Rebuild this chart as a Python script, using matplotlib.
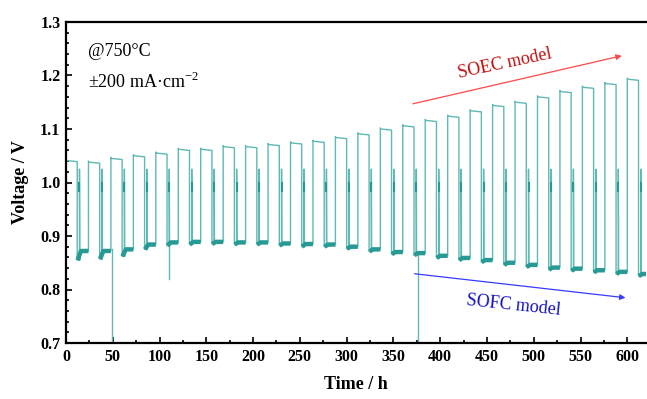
import matplotlib
matplotlib.use("Agg")
import matplotlib.pyplot as plt
from matplotlib.ticker import MultipleLocator

# ---- data ----
period_h = 24.0
soec_hours = 12.0
cycle_start = [24 * k for k in range(26)]
soec_level = [1.041, 1.038, 1.045, 1.050, 1.055, 1.062, 1.062, 1.067, 1.067, 1.071,
              1.074, 1.077, 1.084, 1.091, 1.100, 1.106, 1.116, 1.124, 1.134, 1.144,
              1.150, 1.160, 1.170, 1.178, 1.185, 1.193]
sofc_start = [0.855, 0.857, 0.862, 0.875, 0.882, 0.884, 0.885, 0.884, 0.884, 0.882,
              0.880, 0.880, 0.876, 0.871, 0.866, 0.864, 0.859, 0.855, 0.851, 0.846,
              0.842, 0.837, 0.835, 0.832, 0.829, 0.825]
sofc_level = [0.872, 0.872, 0.875, 0.884, 0.888, 0.889, 0.889, 0.888, 0.888, 0.886,
              0.885, 0.884, 0.880, 0.875, 0.870, 0.868, 0.863, 0.859, 0.855, 0.850,
              0.846, 0.841, 0.839, 0.836, 0.833, 0.829]
ocv_top = 1.025
ocv_blob = [0.985, 1.0]
ocv_bottom = 0.91
t_end = 620.0
# spikes: (time, low value)
spike_times = [48.8, 110.0, 376.0]
spike_values = [0.60, 0.82, 0.60]

# ---- build series ----
t, v = [], []
low_segments = []
blob_segments = []
for k, t0 in enumerate(cycle_start):
    hi = soec_level[k]
    te = t0 + soec_hours
    t += [t0, t0 + 0.6, te]
    v += [hi + 0.002, hi, hi - 0.002]
    if te >= t_end:
        break
    lo0, lo = sofc_start[k], sofc_level[k]
    t += [te, te + 2.4, te + 2.4, te + 2.7, te + 2.7]
    v += [lo0, lo0, ocv_top, ocv_bottom, lo0]
    blob_segments.append((te + 2.4, te + 2.5))
    tn = min(t0 + period_h, t_end)
    t += [te + 4.0, tn]
    v += [lo, lo]
    low_segments.append(([te + 0.3, te + 4.0, tn], [lo0, lo, lo]))

fig = plt.figure(figsize=(6.47, 3.99), dpi=100)
ax = fig.add_axes([66 / 647, 1 - 343 / 399, 580 / 647, 321 / 399])

line_c = "#5fb9b4"
dark_c = "#279a94"
ax.plot(t, v, color=line_c, lw=1.0, zorder=2)
for xs, ys in low_segments:
    ax.plot(xs, ys, color=dark_c, lw=3.2, solid_capstyle="butt", zorder=3)
for a, b in blob_segments:
    ax.plot([a, a], ocv_blob, color=dark_c, lw=1.5, zorder=3)
for ts, vs in zip(spike_times, spike_values):
    k = int(ts // period_h)
    base = sofc_level[min(k, len(sofc_level) - 1)]
    ax.plot([ts, ts], [base, vs], color=line_c, lw=1.0, zorder=2)

ax.set_xlim(0, 620)
ax.set_ylim(0.7, 1.3)
ax.xaxis.set_major_locator(MultipleLocator(50))
ax.xaxis.set_minor_locator(MultipleLocator(25))
ax.yaxis.set_major_locator(MultipleLocator(0.1))
ax.yaxis.set_minor_locator(MultipleLocator(0.02))
ax.tick_params(which="both", direction="in", top=False, right=False, width=1.2)
ax.tick_params(which="major", length=4, pad=4)
ax.tick_params(which="minor", length=2.5)
for s in ax.spines.values():
    s.set_linewidth(1.6)
ax.spines["right"].set_visible(False)

font = "Liberation Serif"
for lab in ax.get_xticklabels() + ax.get_yticklabels():
    lab.set_family(font)
    lab.set_fontweight("bold")
    lab.set_fontsize(11.5)

ax.set_xlabel("Time / h", family=font, fontweight="bold", fontsize=13, labelpad=8)
ax.set_ylabel("Voltage / V", family=font, fontweight="bold", fontsize=13, labelpad=8)

ax.text(23, 1.244, "@750°C", family=font, fontsize=13, va="center", ha="left")
ax.text(23, 1.188, r"±200 mA·cm$^{\mathregular{-2}}$", family=font, fontsize=13,
        va="center", ha="left")

ax.annotate("", xy=(597, 1.238), xytext=(368, 1.146),
            arrowprops=dict(arrowstyle="-|>", color="#ff4848", lw=0.9,
                            mutation_scale=8))
ax.text(469, 1.222, "SOEC model", color="#c41010", family=font, fontsize=13,
        rotation=12, ha="center", va="center")
ax.annotate("", xy=(601, 0.784), xytext=(369.6, 0.830),
            arrowprops=dict(arrowstyle="-|>", color="#3a3aff", lw=0.9,
                            mutation_scale=8))
ax.text(478, 0.770, "SOFC model", color="#1414c0", family=font, fontsize=13,
        rotation=-6, ha="center", va="center")

fig.savefig("out.png", dpi=100)
